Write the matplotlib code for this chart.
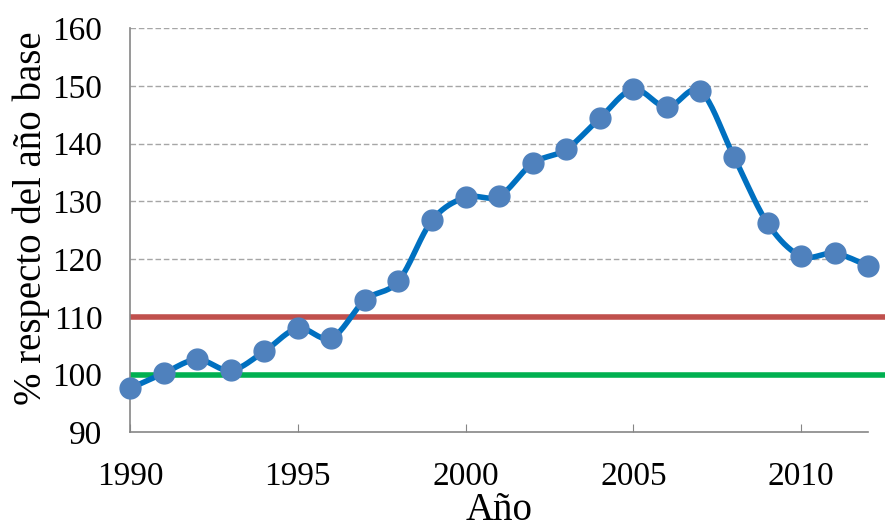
import numpy as np
import matplotlib
matplotlib.use("Agg")
import matplotlib.pyplot as plt

years = list(range(1990, 2013))
values = [97.6, 100.2, 102.6, 100.7, 104.0, 108.0, 106.3, 112.9, 116.2, 126.7,
          130.7, 130.9, 136.6, 139.0, 144.4, 149.4, 146.3, 149.1, 137.7, 126.2,
          120.5, 121.0, 118.8]
kyoto_limit = 110
base_level = 100
x_ticks = [1990, 1995, 2000, 2005, 2010]
y_ticks = [90, 100, 110, 120, 130, 140, 150, 160]


def smooth(x, y, n=20):
    # catmull-rom like excel's smoothed line
    x = np.asarray(x, float)
    y = np.asarray(y, float)
    px = np.concatenate([[x[0]], x, [x[-1]]])
    py = np.concatenate([[y[0]], y, [y[-1]]])
    xs, ys = [], []
    t = np.linspace(0, 1, n, endpoint=False)
    for i in range(1, len(px) - 2):
        for p, out in ((px, xs), (py, ys)):
            p0, p1, p2, p3 = p[i - 1], p[i], p[i + 1], p[i + 2]
            c1 = p1 + (p2 - p0) / 6
            c2 = p2 - (p3 - p1) / 6
            out.extend((1 - t) ** 3 * p1 + 3 * (1 - t) ** 2 * t * c1
                       + 3 * (1 - t) * t ** 2 * c2 + t ** 3 * p2)
    xs.append(x[-1])
    ys.append(y[-1])
    return np.array(xs), np.array(ys)


plt.rcParams['font.family'] = ['Liberation Serif', 'DejaVu Serif']

fig = plt.figure(figsize=(8.85, 5.31), dpi=100)
ax = fig.add_axes([0.147, 0.186, 0.834, 0.761])

grey = '#868686'
for yv in y_ticks[1:]:
    ax.axhline(yv, color='#a6a6a6', lw=1, ls=(0, (4, 2)), zorder=1)

# reference lines run out to the right edge of the figure
ax.plot([years[0], 2012.5], [kyoto_limit, kyoto_limit], color='#C0504D', lw=4,
        clip_on=False, zorder=2, solid_capstyle='butt')
ax.plot([years[0], 2012.5], [base_level, base_level], color='#00B050', lw=4,
        clip_on=False, zorder=2, solid_capstyle='butt')

sx, sy = smooth(years, values)
ax.plot(sx, sy, color='#0070C0', lw=4, zorder=3)
ax.plot(years, values, 'o', color='#4F81BD', ms=15, zorder=4, clip_on=False)

ax.set_xlim(1990, 2012)
ax.set_ylim(90, 160)
ax.set_xticks(x_ticks)
ax.set_yticks(y_ticks)
ax.tick_params(axis='x', direction='in', length=6, color=grey, labelsize=24, pad=21)
ax.tick_params(axis='y', length=0, labelsize=24, pad=20)
for s in ('top', 'right'):
    ax.spines[s].set_visible(False)
for s in ('left', 'bottom'):
    ax.spines[s].set_color(grey)
    ax.spines[s].set_linewidth(1.2)

ax.set_xlabel('Año', fontsize=28, labelpad=0)
ax.set_ylabel('% respecto del año base', fontsize=28, labelpad=2)
ax.yaxis.label.set_y(0.53)

fig.savefig('out.png', dpi=100)
